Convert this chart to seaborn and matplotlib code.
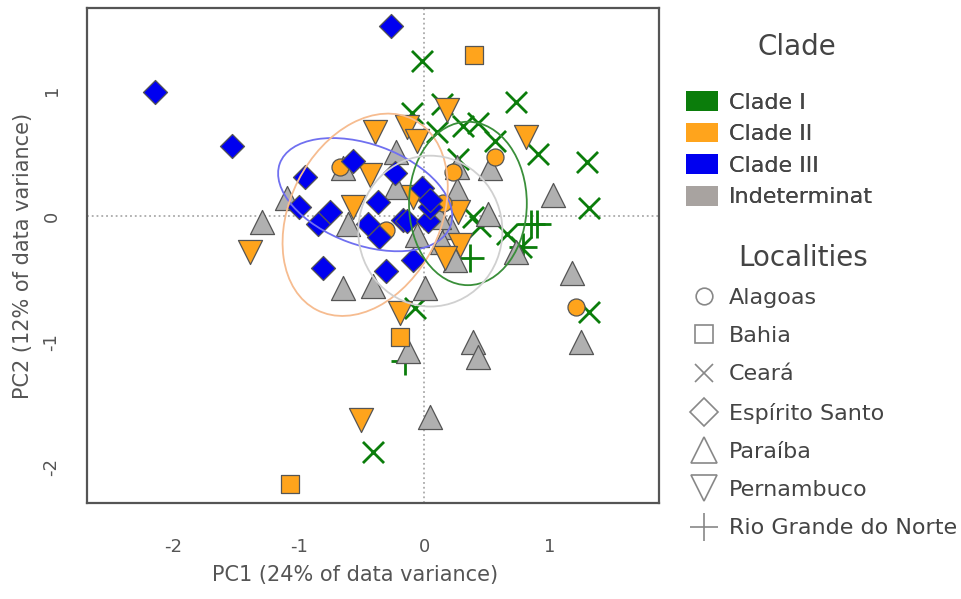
import numpy as np
import pandas as pd
import matplotlib.pyplot as plt
import seaborn as sns
from matplotlib.patches import Ellipse, Patch
from matplotlib.lines import Line2D

# PCA scores, one pair of lists per locality
alagoas_x = [-0.67, 0.57, 0.23, 0.15, 1.21, -0.30]
alagoas_y = [0.39, 0.47, 0.35, 0.10, -0.72, -0.11]

bahia_x = [0.40, -1.07, -0.19]
bahia_y = [1.28, -2.13, -0.96]

ceara_x = [-0.02, -0.10, 0.14, 0.73, 0.31, 0.43, 0.10, 0.57, 0.91, 1.30, 1.32,
           0.27, -0.41, 1.32, -0.07, 0.39, 0.66, 0.77, 0.45]
ceara_y = [1.23, 0.82, 0.89, 0.91, 0.72, 0.74, 0.67, 0.60, 0.49, 0.43, 0.06,
           0.45, -1.88, -0.76, -0.73, -0.01, -0.14, -0.25, -0.08]

espirito_x = [-2.15, -1.53, -0.26, -0.95, -0.57, -1.00, -0.75, -0.85, -0.37,
              -0.45, -0.36, -0.23, -0.17, -0.81, -0.30, -0.14, 0.03, 0.05,
              -0.09, -0.02, 0.05]
espirito_y = [0.99, 0.56, 1.51, 0.31, 0.44, 0.07, 0.03, -0.06, 0.11,
              -0.06, -0.17, 0.34, -0.03, -0.41, -0.44, -0.04, -0.04, 0.07,
              -0.35, 0.22, 0.13]

paraiba_x = [-1.29, -1.09, -0.61, -0.65, -0.65, -0.41, -0.22, -0.22, 0.26,
             0.53, 0.26, 1.03, 0.51, 0.21, 0.14, 0.25, 0.73, 0.01, 1.18,
             1.25, 0.39, 0.43, 0.05, -0.13, -0.06, 0.12]
paraiba_y = [-0.05, 0.14, -0.06, 0.38, -0.57, -0.56, 0.51, 0.23, 0.39,
             0.38, 0.21, 0.17, 0.02, -0.09, -0.21, -0.35, -0.29, -0.57, -0.45,
             -1.00, -1.00, -1.12, -1.60, -1.07, -0.15, -0.01]

pernambuco_x = [-0.39, 0.18, 0.81, -0.14, -0.06, -1.39, -0.50, -0.19, -0.57,
                -0.43, 0.27, 0.29, 0.17, -0.09]
pernambuco_y = [0.67, 0.84, 0.63, 0.71, 0.60, -0.29, -1.62, -0.77, 0.07,
                0.33, 0.03, -0.23, -0.33, 0.15]

rgn_x = [-0.15, 0.90, 0.37, 0.85, 0.79]
rgn_y = [-1.15, -0.06, -0.33, -0.06, -0.25]

localities = ['Alagoas', 'Bahia', 'Ceará', 'Espírito Santo', 'Paraíba',
              'Pernambuco', 'Rio Grande do Norte']
locality_clade = ['Clade II', 'Clade II', 'Clade I', 'Clade III',
                  'Indeterminat', 'Clade II', 'Clade I']
locality_marker = ['o', 's', 'x', 'D', '^', 'v', '+']

clades = ['Clade I', 'Clade II', 'Clade III', 'Indeterminat']
clade_colors = ['#0b7d0b', '#ffa41c', '#0000f0', '#b0b0b0']
legend_colors = ['#0b7d0b', '#ffa41c', '#0000f0', '#a8a3a0']

# ellipses: centre x, centre y, width, height, angle
ell_clade = ['Clade III', 'Clade II', 'Clade I', 'Indeterminat']
ell_cx = [-0.47, -0.47, 0.35, 0.05]
ell_cy = [0.17, 0.01, 0.10, -0.12]
ell_w = [1.45, 1.70, 0.94, 1.15]
ell_h = [0.80, 1.20, 1.30, 1.20]
ell_ang = [-20, 63, 0, 0]
ell_colors = ['#7070f0', '#f6bc90', '#3a8f3a', '#d0d0d0']

xs = [alagoas_x, bahia_x, ceara_x, espirito_x, paraiba_x, pernambuco_x, rgn_x]
ys = [alagoas_y, bahia_y, ceara_y, espirito_y, paraiba_y, pernambuco_y, rgn_y]
rows = []
for loc, cl, px, py in zip(localities, locality_clade, xs, ys):
    for a, b in zip(px, py):
        rows.append({'PC1': a, 'PC2': b, 'Locality': loc, 'Clade': cl})
df = pd.DataFrame(rows)

sns.set_style('white')
plt.rcParams['font.family'] = ['DejaVu Sans']

fig = plt.figure(figsize=(9.62, 5.99), dpi=100)
ax = fig.add_axes([87 / 962, 1 - 503 / 599, 572 / 962, 495 / 599])

ax.axhline(0, color='#aaaaaa', ls=':', lw=1.3, zorder=1)
ax.axvline(0, color='#aaaaaa', ls=':', lw=1.3, zorder=1)

sizes = {'o': 150, 's': 170, 'x': 230, 'D': 150, '^': 300, 'v': 300, '+': 420}
color_of = dict(zip(clades, clade_colors))
draw_order = ['Ceará', 'Rio Grande do Norte', 'Paraíba', 'Pernambuco',
              'Alagoas', 'Bahia', 'Espírito Santo']
for loc in draw_order:
    i = localities.index(loc)
    sub = df[df['Locality'] == loc]
    m = locality_marker[i]
    col = color_of[locality_clade[i]]
    if m in ('x', '+'):
        sns.scatterplot(data=sub, x='PC1', y='PC2', marker=m, color=col,
                        s=sizes[m], linewidth=2, ax=ax, legend=False, zorder=3)
    else:
        sns.scatterplot(data=sub, x='PC1', y='PC2', marker=m, color=col,
                        s=sizes[m], edgecolor='#555555', linewidth=0.9,
                        ax=ax, legend=False, zorder=3)

for cl, cx, cy, w, h, a, c in zip(ell_clade, ell_cx, ell_cy, ell_w, ell_h,
                                   ell_ang, ell_colors):
    ax.add_patch(Ellipse((cx, cy), w, h, angle=a, fill=False, edgecolor=c,
                         lw=1.3, zorder=4))

ax.set_xlim(-2.69, 1.875)
ax.set_ylim(-2.283, 1.655)
ax.set_xticks([-2, -1, 0, 1])
ax.set_yticks([-2, -1, 0, 1])
ax.set_xticklabels(['-2', '-1', '0', '1'])
ax.set_yticklabels(['-2', '-1', '0', '1'], rotation=90, va='center')
ax.tick_params(direction='out', length=10, width=1, color='#999999',
               labelcolor='#555555', labelsize=13)
ax.tick_params(axis='x', pad=15)
ax.tick_params(axis='y', pad=9)
for sp in ax.spines.values():
    sp.set_color('#555555')
    sp.set_linewidth(1.6)
ax.set_xlabel('PC1 (24% of data variance)', fontsize=15, color='#555555')
ax.set_ylabel('PC2 (12% of data variance)', fontsize=15, color='#555555')
ax.xaxis.set_label_coords((355 - 87) / 572, -0.125)
ax.yaxis.set_label_coords(-0.095, 0.5)

# clade legend
fig.text(797 / 962, 1 - 47 / 599, 'Clade', ha='center', va='center',
         fontsize=20, color='#444444')
clade_handles = [Patch(facecolor=c, edgecolor='none') for c in legend_colors]
leg1 = fig.legend(clade_handles, clades, loc='upper left',
                  bbox_to_anchor=(686 / 962, 1 - 91 / 599), frameon=False,
                  fontsize=16, handlelength=1.45, handleheight=1.0,
                  labelspacing=0.45, handletextpad=0.5, borderpad=0,
                  borderaxespad=0)
for t in leg1.get_texts():
    t.set_color('#444444')

# locality legend
fig.text(803 / 962, 1 - 258 / 599, 'Localities', ha='center', va='center',
         fontsize=20, color='#444444')
leg_msize = {'o': 12, 's': 13, 'x': 13, 'D': 14, '^': 19, 'v': 19, '+': 20}
loc_handles = [Line2D([], [], ls='none', marker=m, markersize=leg_msize[m],
                      markerfacecolor='none', markeredgecolor='#888888',
                      markeredgewidth=1.2) for m in locality_marker]
leg2 = fig.legend(loc_handles, localities, loc='upper left',
                  bbox_to_anchor=(691 / 962, 1 - 288 / 599), frameon=False,
                  fontsize=16, handlelength=1.2, labelspacing=0.82,
                  handletextpad=0.5, borderpad=0, borderaxespad=0)
for t in leg2.get_texts():
    t.set_color('#444444')
fig.add_artist(leg1)

plt.savefig('out.png', dpi=100)
plt.close()
